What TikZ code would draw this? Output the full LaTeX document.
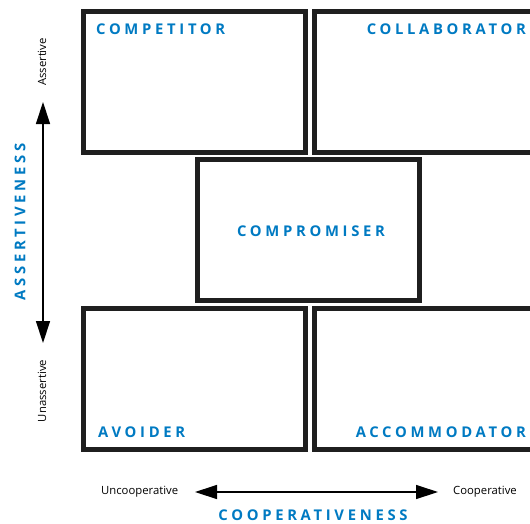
\documentclass[tikz,border=0pt]{standalone}
\usepackage{fontspec}
\setmainfont{Open Sans}
\newfontfamily\capsfont{Open Sans}[LetterSpace=25]
\usetikzlibrary{arrows.meta}
\definecolor{tkblue}{RGB}{0,122,194}
\tikzset{quad/.style={draw=black!88,line width=5pt,minimum width=222pt,minimum height=141pt,inner sep=0pt,outer sep=0pt},
  lbl/.style={text=tkblue,font=\capsfont\bfseries\fontsize{14.8}{15}\selectfont,inner sep=0pt},
  sml/.style={font=\fontsize{11.3}{12}\selectfont,inner sep=0pt},
  axis/.style={line width=1.3pt,{Triangle[length=22pt,width=14pt]}-{Triangle[length=22pt,width=14pt]}}}

\begin{document}
\begin{tikzpicture}[x=1pt,y=-1pt]
  \useasboundingbox (0,0) rectangle (530,523);
  % the five styles
  \node[quad] (competitor) at (194.5,82) {};
  \node[quad] (collaborator) at (425,82.25) {};
  \node[quad] (compromiser) at (308.75,230) {};
  \node[quad] (avoider) at (194.5,379.25) {};
  \node[quad] (accommodator) at (425,379.25) {};
  \node[lbl,anchor=west] (lcompetitor) at (96,29) {COMPETITOR};
  \node[lbl,anchor=east] (lcollaborator) at (526,29) {COLLABORATOR};
  \node[lbl] (lcompromiser) at (311,231) {COMPROMISER};
  \node[lbl,anchor=west] (lavoider) at (98,432) {AVOIDER};
  \node[lbl,anchor=east] (laccommodator) at (526,432) {ACCOMMODATOR};
  % assertiveness axis
  \coordinate (atop) at (43,102);
  \coordinate (abot) at (43,343);
  \draw[axis] (abot) -- (atop);
  \node[sml,rotate=90] (assertive) at (42,62) {Assertive};
  \node[sml,rotate=90] (unassertive) at (42,391) {Unassertive};
  \node[lbl,rotate=90] (assertiveness) at (20,222) {ASSERTIVENESS};
  % cooperativeness axis
  \coordinate (cleft) at (195,492);
  \coordinate (cright) at (438,492);
  \draw[axis] (cleft) -- (cright);
  \node[sml,anchor=west] (uncoop) at (101,492) {Uncooperative};
  \node[sml,anchor=west] (coop) at (453,492) {Cooperative};
  \node[lbl] (cooperativeness) at (313,515) {COOPERATIVENESS};
\end{tikzpicture}
\end{document}
